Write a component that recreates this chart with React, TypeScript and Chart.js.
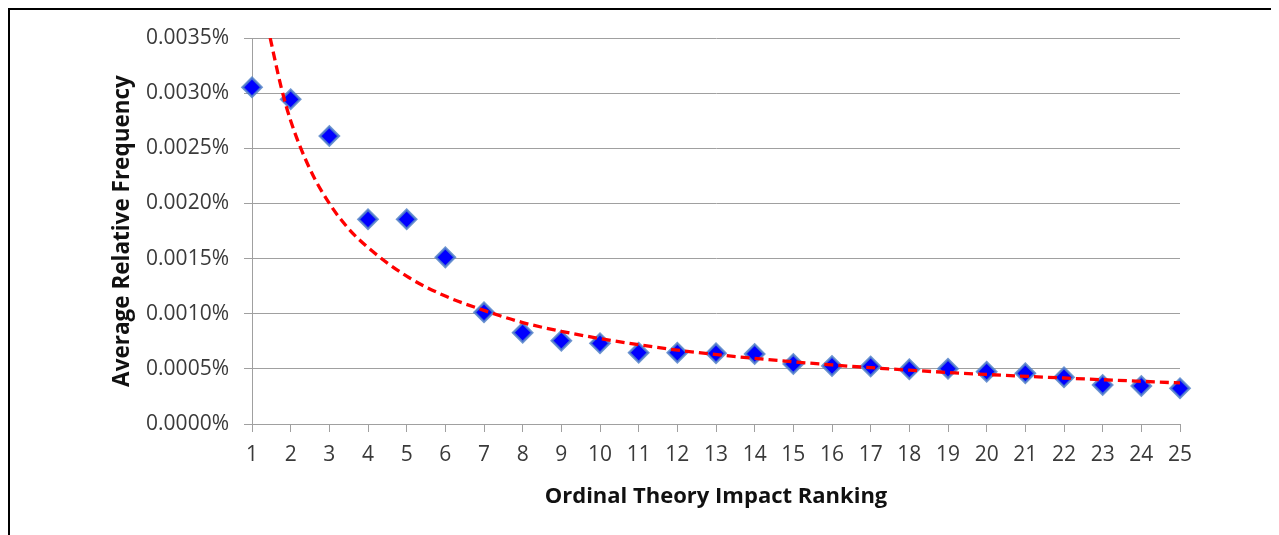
import React, { useEffect, useRef } from "react";
import { Chart, registerables } from "chart.js";

Chart.register(...registerables);

// Observed data: ordinal rank vs average relative frequency (in %)
const ranks = [1, 2, 3, 4, 5, 6, 7, 8, 9, 10, 11, 12, 13, 14, 15, 16, 17, 18, 19, 20, 21, 22, 23, 24, 25];
const frequencies = [
  0.003053, 0.002944, 0.002611, 0.001856, 0.001856, 0.001511, 0.001013, 0.000828, 0.000755, 0.000732,
  0.000647, 0.000647, 0.000641, 0.000635, 0.000544, 0.000526, 0.000522, 0.000496, 0.000501, 0.000474,
  0.00046, 0.000423, 0.000354, 0.000345, 0.000324,
];

// Trend line at these ranks
const trendRanks = [1.47, 1.75, 2, 2.5, 3, 3.5, 4, 5, 6, 7, 8, 9, 10, 12, 14, 16, 18, 20, 22, 25];
const trendValues = [
  0.0035, 0.00306, 0.00275, 0.00231, 0.002, 0.00177, 0.0016, 0.00134, 0.00116, 0.00103,
  0.00092, 0.00084, 0.000775, 0.00067, 0.000595, 0.000536, 0.000488, 0.000449, 0.000417, 0.000372,
];

const yTicks = [0, 0.0005, 0.001, 0.0015, 0.002, 0.0025, 0.003, 0.0035];

const xTitle = "Ordinal Theory Impact Ranking";
const yTitle = "Average Relative Frequency";

export default function App() {
  const canvasRef = useRef<HTMLCanvasElement | null>(null);

  useEffect(() => {
    document.body.style.overflow = "hidden";
    document.documentElement.style.overflow = "hidden";
    const canvas = canvasRef.current;
    if (!canvas) return;
    const gridColor = "#a0a0a0";
    const tickColor = "#3a3a3a";
    const chart = new Chart(canvas, {
      type: "scatter",
      data: {
        datasets: [
          {
            label: "Trend",
            data: trendRanks.map((x, i) => ({ x, y: trendValues[i] })),
            showLine: true,
            borderColor: "#ff0000",
            borderWidth: 3.3,
            borderDash: [9, 5],
            pointRadius: 0,
            pointHoverRadius: 0,
            cubicInterpolationMode: "monotone",
            fill: false,
          },
          {
            label: "Observed",
            data: ranks.map((x, i) => ({ x, y: frequencies[i] })),
            pointStyle: "rectRot",
            pointRadius: 9.5,
            backgroundColor: "#0000ff",
            borderColor: "rgba(84,130,200,0.85)",
            borderWidth: 2.5,
            showLine: false,
            clip: false as any,
          },
        ],
      },
      options: {
        responsive: false,
        animation: false,
        layout: { padding: { left: 0, top: 28, right: 99, bottom: 0 } },
        plugins: {
          legend: { display: false },
          tooltip: { enabled: false },
          title: { display: false },
        },
        scales: {
          x: {
            type: "linear",
            min: 1,
            max: 25,
            afterFit: (scale: any) => {
              scale.height = 111;
            },
            afterBuildTicks: (scale: any) => {
              scale.ticks = ranks.map((v) => ({ value: v }));
            },
            ticks: {
              color: tickColor,
              font: { family: "'Open Sans'", size: 21 },
              padding: 10,
              maxRotation: 0,
              autoSkip: false,
              callback: (v: any) => String(v),
            },
            grid: {
              drawOnChartArea: false,
              drawTicks: true,
              tickLength: 8,
              color: gridColor,
              lineWidth: 1,
            },
            border: { display: true, color: gridColor, width: 1 },
            title: {
              display: true,
              text: xTitle,
              color: "#111111",
              font: { family: "'Open Sans'", size: 22, weight: "bold" },
              padding: { top: 0, bottom: 25 },
            },
          },
          y: {
            type: "linear",
            min: 0,
            max: 0.0035,
            afterFit: (scale: any) => {
              scale.width = 242;
            },
            afterBuildTicks: (scale: any) => {
              scale.ticks = yTicks.map((v) => ({ value: v }));
            },
            ticks: {
              color: tickColor,
              font: { family: "'Open Sans'", size: 21 },
              padding: 15,
              callback: (v: any) => Number(v).toFixed(4) + "%",
            },
            grid: {
              drawTicks: true,
              tickLength: 8,
              color: gridColor,
              lineWidth: 1,
            },
            border: { display: true, color: gridColor, width: 1 },
            title: {
              display: true,
              text: yTitle,
              color: "#111111",
              font: { family: "'Open Sans'", size: 22.5, weight: "bold" },
              padding: { top: 99, bottom: 0 },
            },
          },
        },
      },
    });
    return () => chart.destroy();
  }, []);

  return (
    <div
      style={{
        position: "relative",
        width: 1300,
        height: 560,
        border: "2px solid #000",
        boxSizing: "border-box",
        background: "#fff",
      }}
    >
      <canvas ref={canvasRef} width={1269} height={525} style={{ display: "block" }} />
    </div>
  );
}
